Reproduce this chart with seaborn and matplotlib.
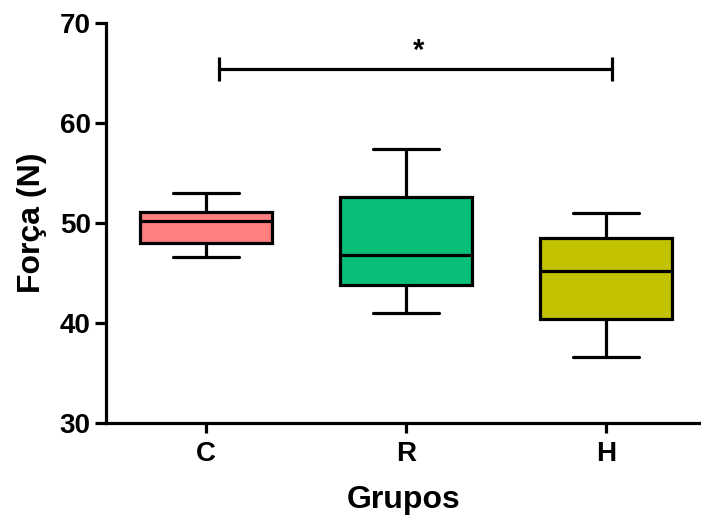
import numpy as np
import pandas as pd
import seaborn as sns
import matplotlib
matplotlib.use("Agg")
import matplotlib.pyplot as plt

# five-number summaries (min, Q1, median, Q3, max)
grupos = ["C", "R", "H"]
forca_C = [46.6, 48.0, 50.2, 51.1, 53.0]
forca_R = [41.0, 43.8, 46.8, 52.6, 57.4]
forca_H = [36.6, 40.4, 45.2, 48.5, 51.0]
cores = ["#FF7F7F", "#08BF78", "#C2C200"]

# significance bracket C vs H
sig_x = [0.065, 2.03]
sig_y = 65.4
sig_txt = "*"

df = pd.DataFrame({
    "Grupos": np.repeat(grupos, 5),
    "Forca": forca_C + forca_R + forca_H,
})

sns.set_style("ticks")
plt.rcParams["font.family"] = ["Liberation Sans", "DejaVu Sans"]
plt.rcParams["font.weight"] = "bold"

fig = plt.figure(figsize=(7.01, 5.17), dpi=100)
ax = fig.add_axes([106 / 701, 1 - 423 / 517, 1 - 106 / 701, 400 / 517])

sns.boxplot(data=df, x="Grupos", y="Forca", hue="Grupos", order=grupos,
            palette=cores, width=0.66, whis=(0, 100), linewidth=2.3,
            linecolor="black", saturation=1, legend=False, ax=ax)

ax.set_ylim(30, 70)
ax.set_xlim(-0.5, 2.475)
ax.set_yticks([30, 40, 50, 60, 70])

# bracket
ax.plot(sig_x, [sig_y, sig_y], color="black", lw=2.3, solid_capstyle="butt")
for xx in sig_x:
    ax.plot([xx, xx], [sig_y - 1.15, sig_y + 1.15], color="black", lw=2.3,
            solid_capstyle="butt")
ax.text(1.065, sig_y + 0.4, sig_txt, ha="center", va="bottom",
        fontsize=21, fontweight="bold", color="black")

sns.despine(ax=ax)
for s in ["left", "bottom"]:
    ax.spines[s].set_linewidth(2.3)
    ax.spines[s].set_color("black")
ax.tick_params(axis="y", length=8, width=2.3, pad=3, labelsize=20, colors="black")
ax.tick_params(axis="x", length=7, width=2.3, pad=6, labelsize=20, colors="black")
for lab in ax.get_xticklabels() + ax.get_yticklabels():
    lab.set_fontweight("bold")

ax.set_xlabel("Grupos", fontsize=23, fontweight="bold", labelpad=13, color="black")
ax.set_ylabel("Força (N)", fontsize=23, fontweight="bold", labelpad=9, color="black")

fig.savefig("out.png", dpi=100)
